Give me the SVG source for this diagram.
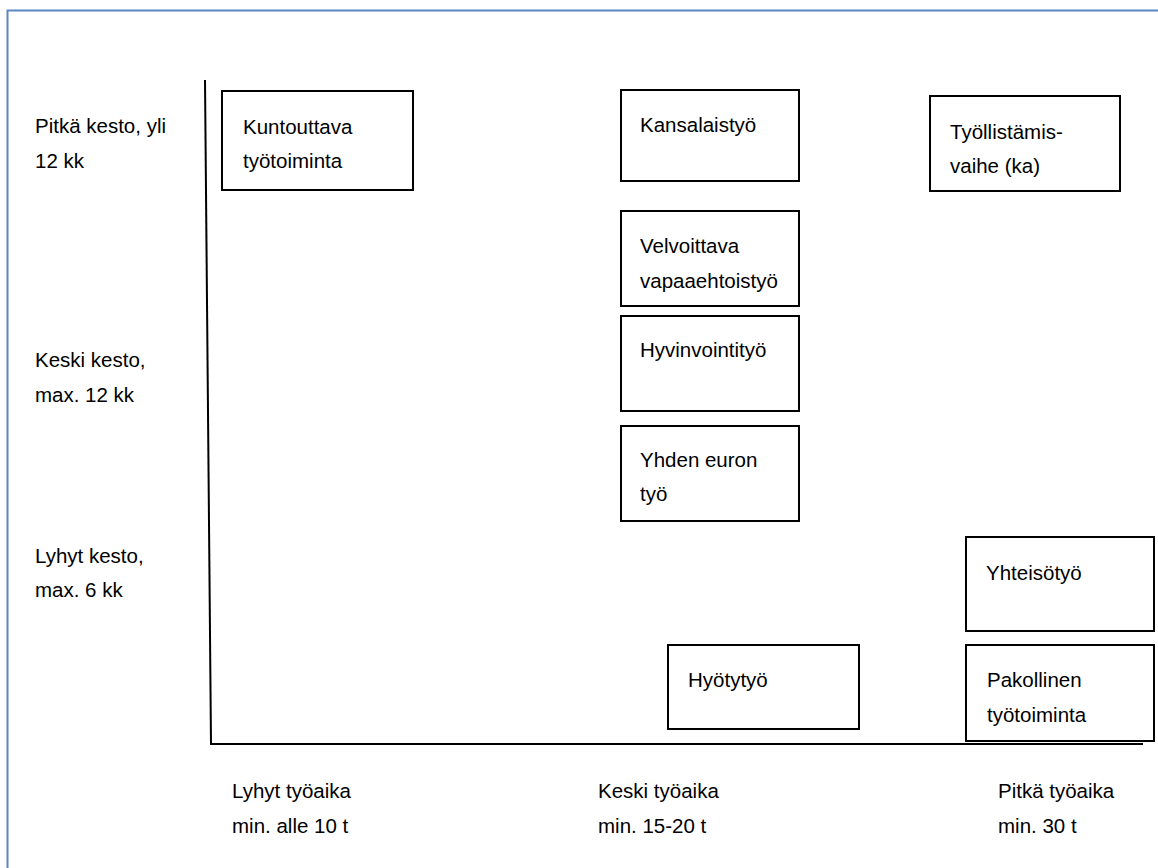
<svg xmlns="http://www.w3.org/2000/svg" width="1158" height="868" viewBox="0 0 1158 868">
<style>
.box{fill:#fff;stroke:#000;stroke-width:2}
.t{font-family:"Liberation Sans",Arial,sans-serif;font-size:20.5px;fill:#000}
.ax{stroke:#000;stroke-width:2;fill:none}
</style>
<rect x="0" y="0" width="1158" height="868" fill="#fff"/>
<rect x="7.5" y="10.5" width="1170" height="880" fill="none" stroke="#5a86c2" stroke-width="2"/>
<g id="axes" class="connectors">
<line class="ax" x1="205" y1="80" x2="211" y2="744"/>
<line class="ax" x1="210" y1="744" x2="1143" y2="744"/>
</g>
<g id="y-labels">
<text class="t" x="35" y="133">Pitkä kesto, yli</text>
<text class="t" x="35" y="168">12 kk</text>
<text class="t" x="35" y="367">Keski kesto,</text>
<text class="t" x="35" y="402">max. 12 kk</text>
<text class="t" x="35" y="563">Lyhyt kesto,</text>
<text class="t" x="35" y="597">max. 6 kk</text>
</g>
<g id="x-labels">
<text class="t" x="232" y="798">Lyhyt työaika</text>
<text class="t" x="232" y="833">min. alle 10 t</text>
<text class="t" x="598" y="798">Keski työaika</text>
<text class="t" x="598" y="833">min. 15-20 t</text>
<text class="t" x="998" y="798">Pitkä työaika</text>
<text class="t" x="998" y="833">min. 30 t</text>
</g>
<g id="kuntouttava">
<rect class="box" x="222" y="91" width="191" height="99"/>
<text class="t" x="243" y="134">Kuntouttava</text>
<text class="t" x="243" y="168">työtoiminta</text>
</g>
<g id="kansalaistyo">
<rect class="box" x="621" y="90" width="178" height="91"/>
<text class="t" x="640" y="132">Kansalaistyö</text>
</g>
<g id="tyollistamis">
<rect class="box" x="930" y="96" width="190" height="95"/>
<text class="t" x="950" y="139">Työllistämis-</text>
<text class="t" x="950" y="173">vaihe (ka)</text>
</g>
<g id="velvoittava">
<rect class="box" x="621" y="211" width="178" height="95"/>
<text class="t" x="640" y="253">Velvoittava</text>
<text class="t" x="640" y="288">vapaaehtoistyö</text>
</g>
<g id="hyvinvointi">
<rect class="box" x="621" y="316" width="178" height="95"/>
<text class="t" x="640" y="357">Hyvinvointityö</text>
</g>
<g id="yhden-euron">
<rect class="box" x="621" y="426" width="178" height="95"/>
<text class="t" x="640" y="467">Yhden euron</text>
<text class="t" x="640" y="501">työ</text>
</g>
<g id="yhteisotyo">
<rect class="box" x="966" y="537" width="188" height="94"/>
<text class="t" x="986" y="580">Yhteisötyö</text>
</g>
<g id="hyotytyo">
<rect class="box" x="668" y="645" width="191" height="84"/>
<text class="t" x="688" y="687">Hyötytyö</text>
</g>
<g id="pakollinen">
<rect class="box" x="966" y="645" width="188" height="96"/>
<text class="t" x="987" y="687">Pakollinen</text>
<text class="t" x="987" y="722">työtoiminta</text>
</g>
</svg>
